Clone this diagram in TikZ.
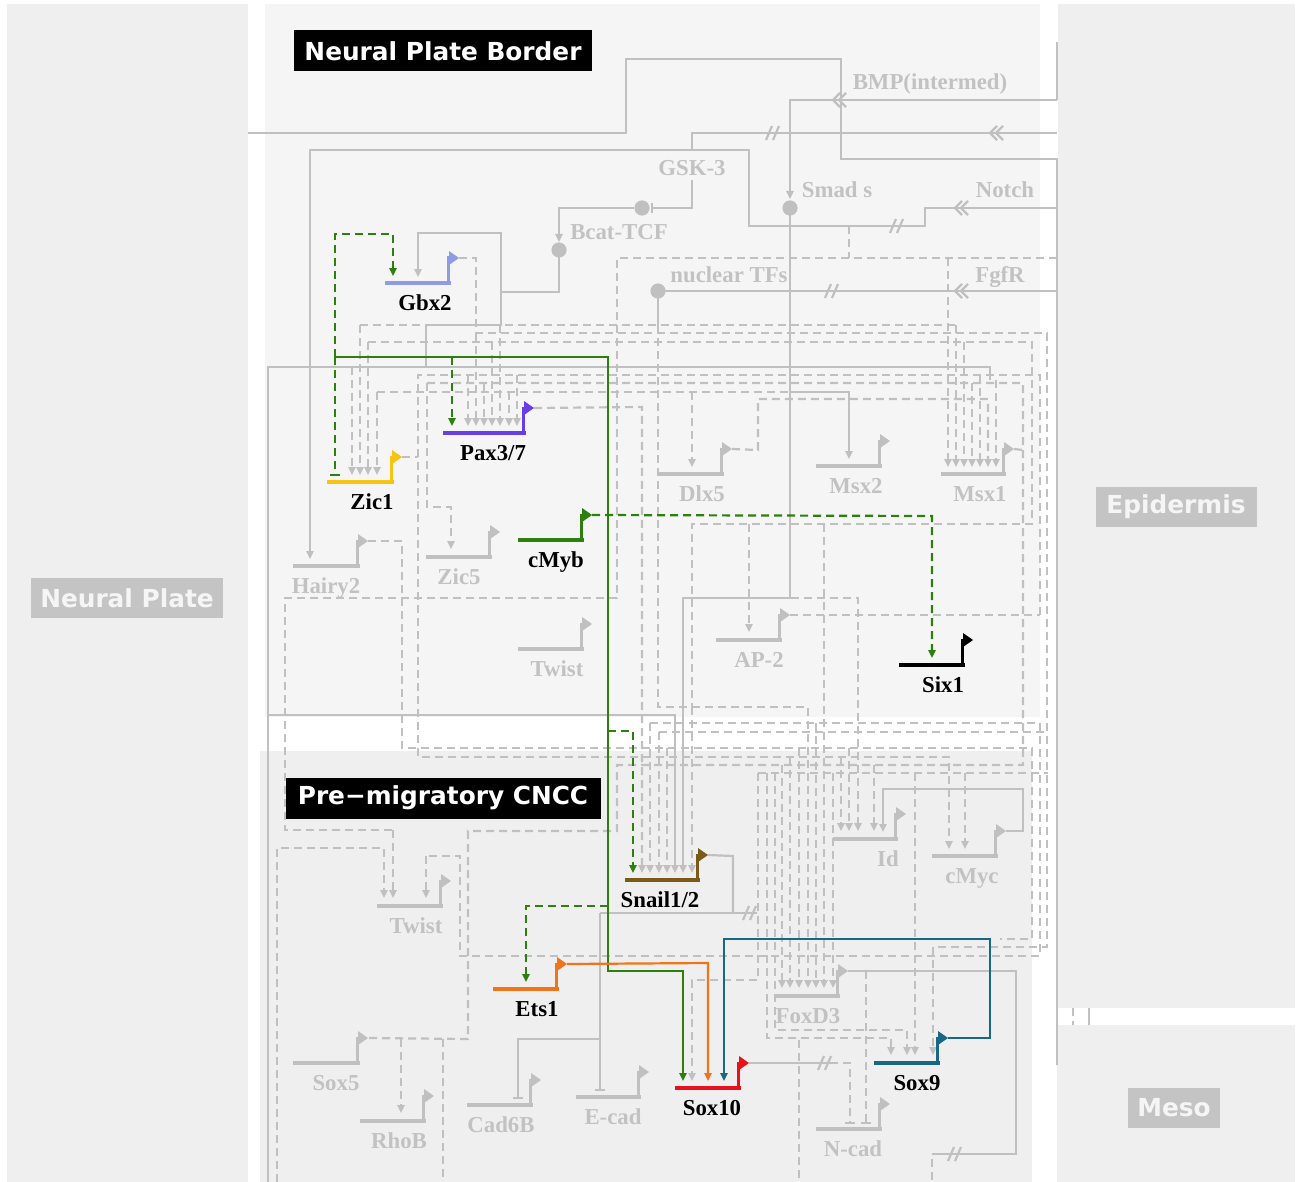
\documentclass[tikz,border=0pt]{standalone}
\usepackage{fontspec}
\setmainfont{Liberation Serif}
\newfontfamily\rsans{DejaVu Sans}
\usetikzlibrary{arrows.meta}
\definecolor{lg}{RGB}{192,192,192}
\definecolor{lt}{RGB}{194,194,194}
\definecolor{bgA}{RGB}{239,239,239}
\definecolor{bgB}{RGB}{245,245,245}
\definecolor{boxg}{RGB}{196,196,196}
\definecolor{cGbx}{RGB}{142,156,230}
\definecolor{cPax}{RGB}{104,62,232}
\definecolor{cZic}{RGB}{248,196,20}
\definecolor{cGrn}{RGB}{46,128,14}
\definecolor{cSnl}{RGB}{122,90,22}
\definecolor{cEts}{RGB}{240,116,28}
\definecolor{cS10}{RGB}{232,18,28}
\definecolor{cS9}{RGB}{22,104,132}
\tikzset{
 sig/.style={draw=lg,line width=1.1pt},
 dsh/.style={draw=lg,line width=1.1pt,dash pattern=on 4pt off 2.5pt},
 act/.style={-{Triangle[length=4pt,width=3.6pt]}},
 inh/.style={-{Bar[width=5pt]}},
 glabel/.style={font=\fontsize{11.4}{13}\selectfont\bfseries,inner sep=0pt,anchor=base},
 slabel/.style={font=\fontsize{11.4}{13}\selectfont\bfseries,inner sep=0pt,text=lt,anchor=base},
 regbox/.style={font=\rsans\bfseries\fontsize{12.4}{14}\selectfont,inner sep=0pt,fill=boxg,text=bgB,minimum height=20pt},
 blkbox/.style={font=\rsans\bfseries\fontsize{12.4}{14}\selectfont,inner sep=0pt,fill=black,text=white,minimum height=20.5pt},
 col/.style={line width=1.1pt,draw=#1},
}
% gene output coordinate
\newcommand\gc[3]{\coordinate (#1-o) at (#2+8,#3-25);}
\newcommand\gn[8]{%
  \draw[line width=2pt,#5] (#2,#4) -- (#3,#4);
  \draw[line width=1.5pt,#5] (#3-3,#4+1) -- (#3-3,#4-25) -- (#3-1,#4-25);
  \fill[#5] (#3-2,#4-32) -- (#3+8,#4-25) -- (#3-2,#4-18) -- cycle;
  \node[glabel,text=#6] (#1) at (#7,#4+27) {#8};
}
\newcommand\chev[2]{%
  \draw[lg,line width=1.1pt] (#1+7,#2-7)--(#1,#2)--(#1+7,#2+7);
  \draw[lg,line width=1.1pt] (#1+13,#2-7)--(#1+6,#2)--(#1+13,#2+7);}
\newcommand\brk[2]{%
  \draw[lg,line width=1.1pt] (#1-7,#2+7)--(#1-1,#2-7);
  \draw[lg,line width=1.1pt] (#1,#2+7)--(#1+6,#2-7);}
\begin{document}
\begin{tikzpicture}[x=0.5pt,y=-0.5pt]
\useasboundingbox (0,0) rectangle (1300,1182);
\fill[white] (0,0) rectangle (1300,1182);
% regions
\fill[bgA] (7,4) rectangle (248,1182);
\fill[bgB] (265,4) rectangle (1040,717);
\fill[bgA] (260,751) rectangle (1032,1182);
\fill[bgA] (1058,4) rectangle (1295,1008);
\fill[bgA] (1057,1025) rectangle (1295,1182);

% gene output coordinates
\gc{hairy2}{360}{566} \gc{zic5}{492}{557} \gc{twistA}{584}{649}
\gc{dlx5}{724}{474} \gc{msx2}{882}{466} \gc{msx1}{1006}{474}
\gc{ap2}{782}{640} \gc{id}{898}{839} \gc{cmyc}{998}{856}
\gc{twistB}{443}{906} \gc{foxd3}{840}{996} \gc{sox5}{360}{1063}
\gc{rhob}{426}{1121} \gc{cad6b}{533}{1105} \gc{ecad}{641}{1097}
\gc{ncad}{882}{1129} \gc{gbx2}{451}{283} \gc{pax37}{526}{433}
\gc{zic1}{394}{482} \gc{cmyb}{584}{540} \gc{six1}{965}{665}
\gc{snail}{700}{880} \gc{ets1}{559}{989} \gc{sox10}{741}{1088}
\gc{sox9}{940}{1063}

% ---------- signalling (solid gray) ----------
\draw[sig] (248,133)--(626,133)--(626,59)--(841,59)--(841,159)--(1057,159)--(1057,1065);
\draw[sig] (1057,42)--(1057,100);
\draw[sig,act] (1057,100)--(790,100)--(790,199);
\chev{833}{100}
\draw[sig,inh] (1057,133)--(692,133)--(692,151);
\chev{990}{133}
\brk{773}{133}
\draw[sig,act] (1057,208)--(925,208)--(925,226)--(749,226)--(749,150)--(310,150)--(310,559);
\chev{955}{208}
\brk{897}{226}
\draw[sig] (1057,291)--(665,291);
\chev{955}{291}
\brk{832}{291}
\draw[sig,inh] (692,180)--(692,208)--(651,208);
\draw[sig,act] (634,208)--(559,208)--(559,242);
\draw[sig,act] (559,257)--(559,292)--(501,292)--(501,233)--(418,233)--(418,277);
\draw[sig] (501,292)--(501,325)--(426,325)--(426,367);
\draw[sig] (658,298)--(658,325);
\draw[sig,act] (790,215)--(790,598)--(683,598)--(683,873);
\draw[sig,act] (790,392)--(849,392)--(849,459);
\draw[sig] (268,1182)--(268,367)--(990,367)--(990,380);
\draw[sig,act] (268,715)--(675,715)--(675,873);
\fill[lg] (642,208) circle[radius=3.8pt];
\fill[lg] (790,208) circle[radius=3.8pt];
\fill[lg] (559,250) circle[radius=3.8pt];
\fill[lg] (658,291) circle[radius=3.8pt];
\node[slabel] (bmp) at (930,90) {BMP(intermed)};
\node[slabel] (gsk) at (692,176) {GSK-3};
\node[slabel] (smad) at (837,198) {Smad s};
\node[slabel] (notch) at (1005,198) {Notch};
\node[slabel] (bcat) at (619,240) {Bcat-TCF};
\node[slabel] (ntf) at (729,282) {nuclear TFs};
\node[slabel] (fgfr) at (1000,282) {FgfR};

% ---------- dashed gray network ----------
\draw[dsh] (gbx2-o)--(476,258)--(476,333)--(1047,333)--(1047,947)--(933,947);
\draw[dsh,act] (933,947)--(933,1055);
\draw[dsh,act] (476,333)--(476,426);
\draw[dsh] (360,325)--(426,325); \draw[dsh] (505,325)--(956,325);
\draw[dsh,act] (360,325)--(360,475);
\draw[dsh,act] (956,325)--(956,467);
\draw[dsh,act] (500,325)--(500,426);
\draw[dsh] (368,342)--(1032,342)--(1032,524)--(692,524)--(692,707);
\draw[dsh,act] (368,342)--(368,475);
\draw[dsh,act] (492,342)--(492,426);
\draw[dsh,act] (964,342)--(964,467);
\draw[dsh,act] (352,367)--(352,475);
\draw[dsh,act] (377,392)--(377,475);
\draw[dsh] (377,392)--(790,392);
\draw[dsh,act] (509,392)--(509,426);
\draw[dsh,act] (1040,615)--(1040,375)--(418,375)--(418,757)--(949,757)--(949,849);
\draw[dsh] (ap2-o)--(1040,615);
\draw[dsh] (zic1-o)--(418,457);
\draw[dsh,act] (468,375)--(468,426);
\draw[dsh,act] (517,375)--(517,426);
\draw[dsh,act] (980,375)--(980,467);
\draw[dsh] (427,383)--(1023,383)--(1023,765)--(617,765)--(617,831)--(468,831)--(468,1039)--(sox5-o);
\draw[dsh,act] (484,383)--(484,426);
\draw[dsh,act] (972,383)--(972,467);
\draw[dsh,act] (427,383)--(427,507)--(451,507)--(451,549);
\draw[dsh,act] (692,392)--(692,467);
\draw[dsh,act] (dlx5-o)--(758,450)--(758,399)--(988,399)--(988,467);
\draw[dsh,act] (996,380)--(996,467);
\draw[dsh] (msx1-o)--(1023,450);
\draw[dsh] (hairy2-o)--(402,541)--(402,748)--(1032,748)--(1032,939)--(1000,939);
\draw[dsh,act] (pax37-o)--(642,407)--(642,873);
\draw[dsh] (1057,258)--(617,258)--(617,598)--(285,598)--(285,830)--(393,830);
\draw[dsh,act] (393,830)--(393,898);
\draw[dsh] (849,226)--(849,258);
\draw[dsh,act] (948,258)--(948,467);
\draw[dsh,act] (749,524)--(749,632);
\draw[dsh,act] (824,524)--(824,988);
\draw[dsh,act] (791,598)--(858,598)--(858,831);
\draw[dsh,act] (658,325)--(658,707)--(808,707)--(808,988);
\draw[dsh,act] (692,707)--(692,873);
% lower bundle
\draw[dsh] (650,723)--(1040,723);
\draw[dsh,act] (650,723)--(650,873);
\draw[dsh,act] (816,723)--(816,988);
\draw[dsh] (659,732)--(1048,732);
\draw[dsh,act] (659,732)--(659,873);
\draw[dsh,act] (667,748)--(667,873);
\draw[dsh,act] (799,748)--(799,988);
\draw[dsh,act] (849,748)--(849,831);
\draw[dsh,act] (790,757)--(790,988);
\draw[dsh,act] (841,757)--(841,831);
\draw[dsh,act] (782,765)--(782,988);
\draw[dsh,act] (874,765)--(874,831);
\draw[dsh] (758,773)--(1048,773);
\draw[dsh,act] (833,773)--(833,988);
\draw[dsh,act] (965,773)--(965,849);
\draw[dsh,act] (915,773)--(915,1055);
\draw[dsh,act] (758,773)--(758,980)--(692,980)--(692,1081);
\draw[dsh,act] (767,773)--(767,1038)--(891,1038)--(891,1055);
\draw[dsh,act] (775,773)--(775,1030)--(907,1030)--(907,1055);
\draw[dsh] (1040,723)--(1040,956)--(460,956)--(460,856)--(426,856);
\draw[dsh,act] (426,856)--(426,898);
\draw[dsh,act] (277,1182)--(277,848)--(384,848)--(384,898);
\draw[dsh,act] (401,1039)--(401,1113);
\draw[dsh] (443,1039)--(443,1182);
\draw[dsh] (799,1040)--(799,1182);
\draw[dsh,inh] (866,971)--(866,1124);
\draw[dsh] (1073,1008)--(1073,1025);
\draw[sig] (1089,1008)--(1089,1025);

% solid outputs lower
\draw[sig] (snail-o)--(733,856)--(733,913);
\draw[sig] (600,913)--(757,913);
\brk{750}{913}
\draw[sig,inh] (600,913)--(600,1091);
\draw[sig,inh] (600,1039)--(518,1039)--(518,1099);
\draw[sig,act] (cmyc-o)--(1023,831)--(1023,789)--(883,789)--(883,832);
\draw[sig] (foxd3-o)--(1016,971)--(1016,1154)--(940,1154);
\brk{955}{1154}
\draw[dsh] (940,1154)--(932,1154)--(932,1182);
\draw[sig] (sox10-o)--(830,1063);
\brk{825}{1063}
\draw[dsh,inh] (830,1063)--(850,1063)--(850,1124);

% ---------- genes ----------
\gn{hairy2}{293}{360}{566}{lg}{lt}{326}{Hairy2}
\gn{zic5}{426}{492}{557}{lg}{lt}{459}{Zic5}
\gn{twistA}{518}{584}{649}{lg}{lt}{557}{Twist}
\gn{dlx5}{658}{724}{474}{lg}{lt}{702}{Dlx5}
\gn{msx2}{816}{882}{466}{lg}{lt}{856}{Msx2}
\gn{msx1}{941}{1006}{474}{lg}{lt}{980}{Msx1}
\gn{ap2}{716}{782}{640}{lg}{lt}{759}{AP-2}
\gn{id}{833}{898}{839}{lg}{lt}{888}{Id}
\gn{cmyc}{932}{998}{856}{lg}{lt}{972}{cMyc}
\gn{twistB}{377}{443}{906}{lg}{lt}{416}{Twist}
\gn{foxd3}{774}{840}{996}{lg}{lt}{808}{FoxD3}
\gn{sox5}{293}{360}{1063}{lg}{lt}{336}{Sox5}
\gn{rhob}{360}{426}{1121}{lg}{lt}{399}{RhoB}
\gn{cad6b}{467}{533}{1105}{lg}{lt}{501}{Cad6B}
\gn{ecad}{576}{641}{1097}{lg}{lt}{613}{E-cad}
\gn{ncad}{816}{882}{1129}{lg}{lt}{853}{N-cad}
\gn{gbx2}{385}{451}{283}{cGbx}{black}{425}{Gbx2}
\gn{pax37}{443}{526}{433}{cPax}{black}{493}{Pax3/7}
\gn{zic1}{327}{394}{482}{cZic}{black}{372}{Zic1}
\gn{cmyb}{518}{584}{540}{cGrn}{black}{556}{cMyb}
\gn{six1}{899}{965}{665}{black}{black}{943}{Six1}
\gn{snail}{625}{700}{880}{cSnl}{black}{660}{Snail1/2}
\gn{ets1}{493}{559}{989}{cEts}{black}{537}{Ets1}
\gn{sox10}{675}{741}{1088}{cS10}{black}{712}{Sox10}
\gn{sox9}{874}{940}{1063}{cS9}{black}{917}{Sox9}

% ---------- coloured connectors ----------
\draw[col=cGrn,dash pattern=on 4pt off 2.5pt,act] (335,357)--(335,234)--(393,234)--(393,276);
\draw[col=cGrn,dash pattern=on 4pt off 2.5pt,inh] (335,357)--(335,476);
\draw[col=cGrn,act] (335,357)--(608,357)--(608,971)--(683,971)--(683,1081);
\draw[col=cGrn,dash pattern=on 4pt off 2.5pt,act] (452,357)--(452,426);
\draw[col=cGrn,dash pattern=on 4pt off 2.5pt,act] (608,731)--(633,731)--(633,873);
\draw[col=cGrn,dash pattern=on 4pt off 2.5pt,act] (608,906)--(526,906)--(526,982);
\draw[col=cGrn,dash pattern=on 4pt off 2.5pt,act] (cmyb-o)--(932,516)--(932,658);
\draw[col=cEts,act] (ets1-o)--(708,963)--(708,1081);
\draw[col=cS9,act] (sox9-o)--(990,1038)--(990,939)--(724,939)--(724,1081);

% ---------- region labels ----------
\node[blkbox,minimum width=149pt] (npb) at (443,51) {Neural Plate Border};
\node[blkbox,minimum width=157.5pt] (cncc) at (443,798) {Pre−migratory CNCC};
\node[regbox,minimum width=96pt] (np) at (127,598) {Neural Plate};
\node[regbox,minimum width=80.5pt] (epi) at (1176,507) {Epidermis};
\node[regbox,minimum width=46pt] (meso) at (1174,1108) {Meso};
\end{tikzpicture}
\end{document}
